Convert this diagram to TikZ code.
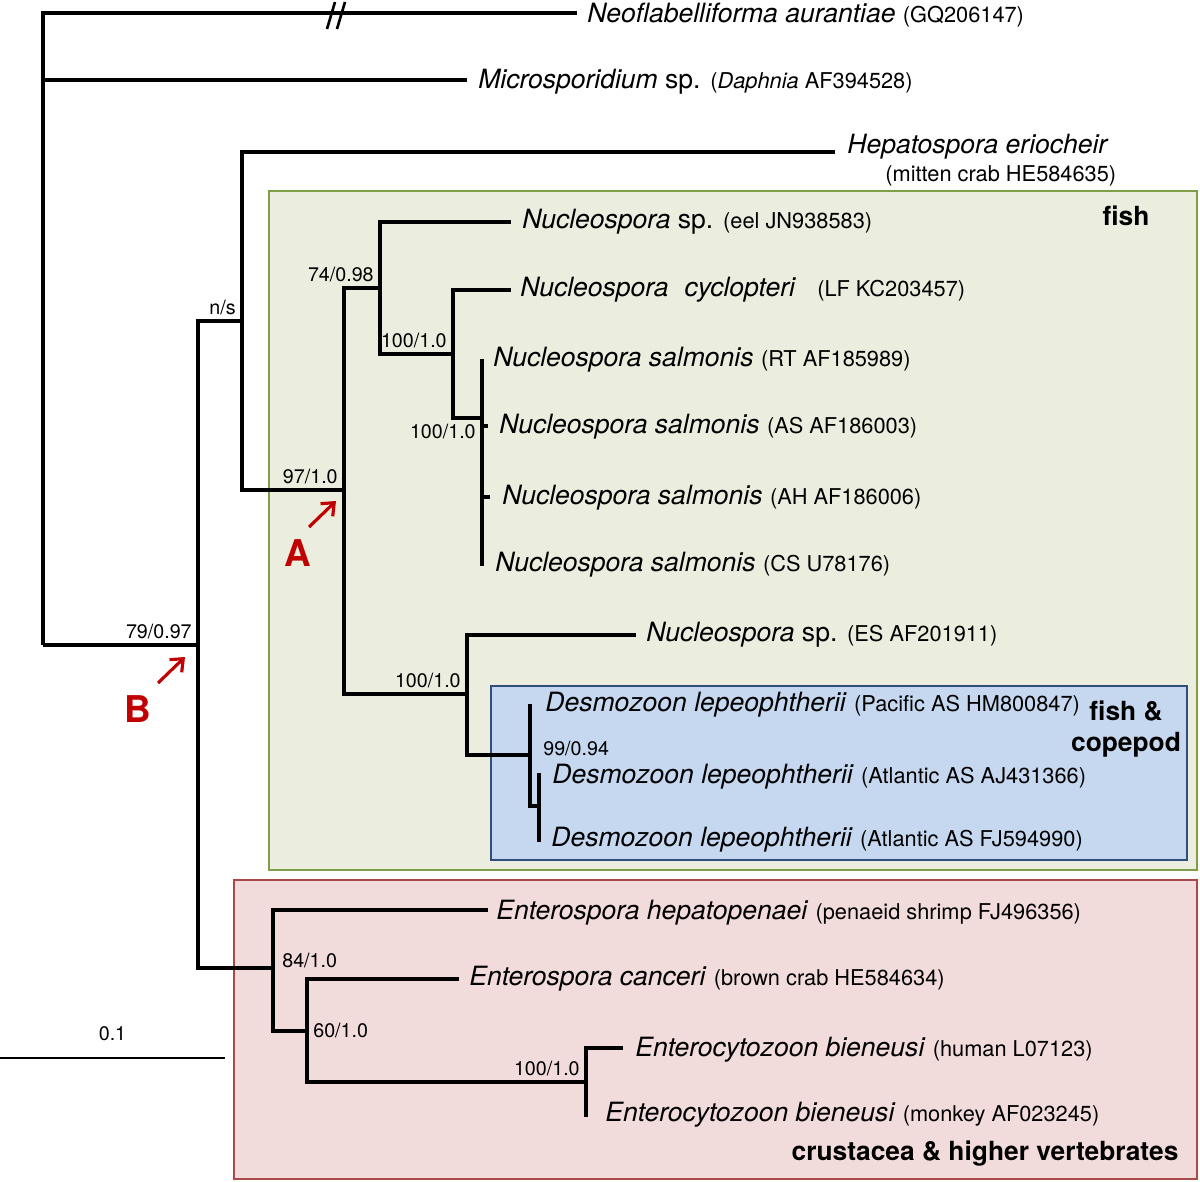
\documentclass[tikz,border=0pt]{standalone}
\usepackage{fontspec}
\setmainfont{TeX Gyre Heros}
\usepackage{xcolor}
\usepackage{tikz}
\usetikzlibrary{arrows.meta,positioning,calc}

\definecolor{fishfill}{HTML}{EBEEDE}
\definecolor{fishline}{HTML}{7E9E48}
\definecolor{copfill}{HTML}{C6D8EF}
\definecolor{copline}{HTML}{2F4E7A}
\definecolor{crufill}{HTML}{F2DBDB}
\definecolor{cruline}{HTML}{A94A4A}
\definecolor{markred}{HTML}{C00000}

\tikzset{
  branch/.style={line width=1.9pt},
  leaf/.style={anchor=west, inner sep=0pt, font=\fontsize{15.1}{17}\selectfont},
  supp/.style={font=\fontsize{11.2}{13}\selectfont, inner sep=3.4pt},
  grp/.style={font=\fontsize{15}{18}\selectfont\bfseries, align=center},
  pointer/.style={-{Straight Barb[length=6pt,width=10pt]}, draw=markred, line width=1.8pt},
  marklbl/.style={font=\fontsize{21}{24}\selectfont\bfseries, text=markred},
}
\newcommand{\accno}[1]{{\fontsize{12.4}{14}\selectfont #1}}

\begin{document}
\begin{tikzpicture}[x=0.02cm, y=-0.02cm]
        \useasboundingbox (0,0) rectangle (1200,1182);

        % Clade boxes
        \draw[fishline, fill=fishfill, line width=1.2pt] (269,191) rectangle (1197,870);
        \draw[copline, fill=copfill, line width=1.1pt] (491,686) rectangle (1187,860);
        \draw[cruline, fill=crufill, line width=1.1pt] (234,880) rectangle (1197,1179);
        \node[grp] (gfish) at (1126,216) {fish};
        \node[grp] (gcop) at (1126,729) {fish \&\\copepod};
        \node[grp] (gcru) at (985,1154) {crustacea \& higher vertebrates};

        % Internal nodes
        \coordinate (root) at (43,645);
        \coordinate (B) at (198,645);
        \coordinate (ns) at (242,321);
        \coordinate (A) at (344,490);
        \coordinate (n74) at (380,288);
        \coordinate (n100a) at (453,354);
        \coordinate (sal) at (482,418);
        \coordinate (n100b) at (467,694);
        \coordinate (dl) at (530,755);
        \coordinate (dl2) at (539,806);
        \coordinate (E) at (273,968);
        \coordinate (n60) at (307,1031);
        \coordinate (n100c) at (586,1082);

        % Tips
        \coordinate (tneo) at (577,13);
        \coordinate (tmic) at (467,80);
        \coordinate (thep) at (835,152);
        \coordinate (teel) at (511,222);
        \coordinate (tcyc) at (511,290);
        \coordinate (ts1) at (482,359);
        \coordinate (ts2) at (488,426);
        \coordinate (ts3) at (490,497);
        \coordinate (ts4) at (482,566);
        \coordinate (tes) at (636,635);
        \coordinate (td1) at (530,704);
        \coordinate (td2) at (539,773);
        \coordinate (td3) at (539,842);
        \coordinate (tehe) at (488,910);
        \coordinate (tcan) at (459,979);
        \coordinate (tbi1) at (623,1048);
        \coordinate (tbi2) at (586,1117);

        % Outgroups
        \draw[branch] (root) |- (tneo);
        \draw[branch] (root) |- (tmic);
        \draw[branch] (root) |- (B);
        \draw[line width=1.5pt] (327,29) -- (335,2) (337,29) -- (345,2);

        % Hepatospora and fish clade
        \draw[branch] (B) |- (ns);
        \draw[branch] (ns) |- (thep);
        \draw[branch] (ns) |- (A);
        \draw[branch] (A) |- (n74);
        \draw[branch] (A) |- (n100b);
        \draw[branch] (n74) |- (teel);
        \draw[branch] (n74) |- (n100a);
        \draw[branch] (n100a) |- (tcyc);
        \draw[branch] (n100a) |- (sal);
        \draw[branch] (sal) |- (ts1);
        \draw[branch] (sal) |- (ts2);
        \draw[branch] (sal) |- (ts3);
        \draw[branch] (sal) |- (ts4);
        \draw[branch] (n100b) |- (tes);
        \draw[branch] (n100b) |- (dl);
        \draw[branch] (dl) |- (td1);
        \draw[branch] (dl) |- (dl2);
        \draw[branch] (dl2) |- (td2);
        \draw[branch] (dl2) |- (td3);

        % Crustacea and higher vertebrates
        \draw[branch] (B) |- (E);
        \draw[branch] (E) |- (tehe);
        \draw[branch] (E) |- (n60);
        \draw[branch] (n60) |- (tcan);
        \draw[branch] (n60) |- (n100c);
        \draw[branch] (n100c) |- (tbi1);
        \draw[branch] (n100c) |- (tbi2);

        % Taxa
        \node[leaf] (neo) at (587,15) {\textit{Neoflabelliforma aurantiae} \accno{(GQ206147)}};
        \node[leaf] (mic) at (478,82) {\textit{Microsporidium} sp. \accno{(\textit{Daphnia} AF394528)}};
        \node[leaf] (hep) at (847,147) {\textit{Hepatospora eriocheir}};
        \node[leaf] (hepacc) at (885,176) {\accno{(mitten crab HE584635)}};
        \node[leaf] (eel) at (522,222) {\textit{Nucleospora} sp. \accno{(eel JN938583)}};
        \node[leaf] (cyc) at (520,290) {\textit{Nucleospora}\hspace{0.6em}\textit{cyclopteri}\hspace{0.8em}\accno{(LF KC203457)}};
        \node[leaf] (s1) at (493,360) {\textit{Nucleospora salmonis} \accno{(RT AF185989)}};
        \node[leaf] (s2) at (499,427) {\textit{Nucleospora salmonis} \accno{(AS AF186003)}};
        \node[leaf] (s3) at (502,498) {\textit{Nucleospora salmonis} \accno{(AH AF186006)}};
        \node[leaf] (s4) at (495,565) {\textit{Nucleospora salmonis} \accno{(CS U78176)}};
        \node[leaf] (es) at (646,635) {\textit{Nucleospora} sp. \accno{(ES AF201911)}};
        \node[leaf] (d1) at (545,705) {\textit{Desmozoon lepeophtherii} \accno{(Pacific AS HM800847)}};
        \node[leaf] (d2) at (552,777) {\textit{Desmozoon lepeophtherii} \accno{(Atlantic AS AJ431366)}};
        \node[leaf] (d3) at (551,840) {\textit{Desmozoon lepeophtherii} \accno{(Atlantic AS FJ594990)}};
        \node[leaf] (ehe) at (496,913) {\textit{Enterospora hepatopenaei} \accno{(penaeid shrimp FJ496356)}};
        \node[leaf] (can) at (469,979) {\textit{Enterospora canceri} \accno{(brown crab HE584634)}};
        \node[leaf] (bi1) at (635,1050) {\textit{Enterocytozoon bieneusi} \accno{(human L07123)}};
        \node[leaf] (bi2) at (605,1115) {\textit{Enterocytozoon bieneusi} \accno{(monkey AF023245)}};

        % Support values
        \node[supp, above left] (b79) at (B) {79/0.97};
        \node[supp, above left] (bns) at (ns) {n/s};
        \node[supp, above left] (b97) at (A) {97/1.0};
        \node[supp, above left] (b74) at (n74) {74/0.98};
        \node[supp, above left] (b100a) at (n100a) {100/1.0};
        \node[supp, below left] (b100s) at (sal) {100/1.0};
        \node[supp, above left] (b100b) at (n100b) {100/1.0};
        \node[supp, anchor=west, inner sep=0pt] (b99) at (543,749) {99/0.94};
        \node[supp, anchor=west, inner sep=0pt] (b84) at (282,961) {84/1.0};
        \node[supp, right] (b60) at (n60) {60/1.0};
        \node[supp, above left] (b100c) at (n100c) {100/1.0};

        % Scale bar
        \coordinate (sb0) at (0,1058);
        \coordinate (sb1) at (225,1058);
        \draw[line width=1.1pt] (sb0) -- (sb1) node[supp, midway, above=5.6pt] (sblbl) {0.1};

        % Marked nodes
        \coordinate (aTail) at (309,527);
        \coordinate (aHead) at (336,501);
        \draw[pointer] (aTail) -- (aHead);
        \node[marklbl] (lblA) at (298,553) {A};
        \coordinate (bTail) at (158,683);
        \coordinate (bHead) at (185,657);
        \draw[pointer] (bTail) -- (bHead);
        \node[marklbl] (lblB) at (138,709) {B};
\end{tikzpicture}
\end{document}
